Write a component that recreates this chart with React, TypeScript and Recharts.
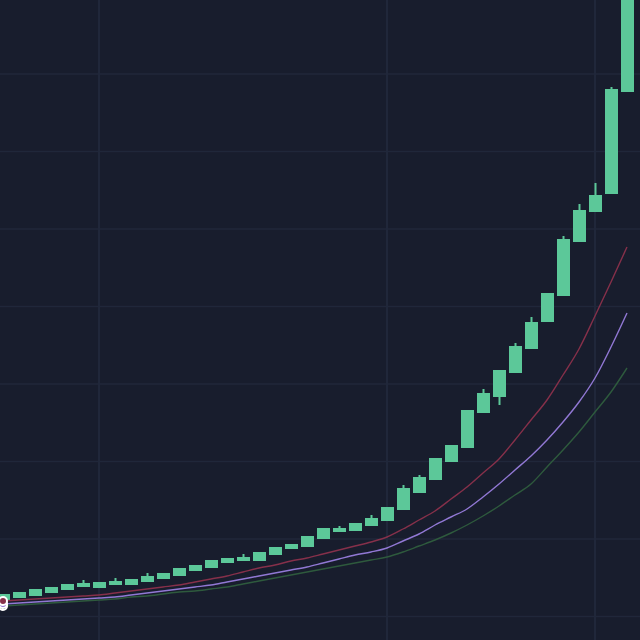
import React from "react";
import { ComposedChart, Bar, Line, XAxis, YAxis, ReferenceLine } from "recharts";

const BG = "#181d2d";
const GRID = "#20273a";
const UP = "#5cc899";

// one label per session
const days = [
  "1", "2", "3", "4", "5", "6", "7", "8", "9", "10",
  "11", "12", "13", "14", "15", "16", "17", "18", "19", "20",
  "21", "22", "23", "24", "25", "26", "27", "28", "29", "30",
  "31", "32", "33", "34", "35", "36", "37", "38", "39", "40",
];

const opens = [
  40, 42, 44, 47, 50, 53, 52, 55, 55, 58,
  61, 64, 69, 72, 77, 79, 79, 85, 91, 93,
  101, 108, 109, 114, 119, 130, 147, 160, 178, 192,
  227, 243, 267, 291, 318, 344, 398, 428, 446, 548,
];
const closes = [
  46, 48, 51, 53, 56, 57, 58, 59, 61, 64,
  67, 72, 75, 80, 82, 83, 88, 93, 96, 104,
  112, 112, 117, 122, 133, 152, 163, 182, 195, 230,
  247, 270, 294, 318, 347, 401, 430, 445, 551, 700,
];
const highs = [
  46, 48, 51, 53, 56, 60, 58, 62, 61, 67,
  67, 72, 75, 80, 82, 86, 88, 93, 96, 104,
  112, 114, 117, 125, 133, 155, 165, 182, 195, 230,
  251, 270, 297, 323, 347, 404, 436, 457, 553, 705,
];
const lows = [
  40, 42, 44, 47, 50, 53, 52, 55, 55, 58,
  61, 64, 69, 72, 77, 79, 79, 85, 91, 93,
  101, 108, 109, 114, 119, 130, 147, 160, 178, 192,
  227, 235, 267, 291, 318, 344, 398, 428, 446, 548,
];

// moving averages
const maFast = [
  39, 40, 41, 42, 43, 44, 45, 47, 49, 51,
  53, 55, 58, 61, 64, 68, 72, 75, 79, 82,
  86, 90, 94, 98, 103, 111, 120, 129, 141, 153,
  167, 181, 200, 220, 240, 265, 291, 324, 358, 393,
];
const maMid = [
  36, 37, 38, 39, 40, 41, 42, 43, 45, 47,
  49, 51, 53, 55, 58, 61, 64, 67, 70, 73,
  77, 81, 85, 88, 92, 99, 106, 115, 123, 131,
  143, 156, 170, 184, 200, 218, 238, 262, 293, 327,
];
const maSlow = [
  34, 35, 36, 37, 38, 39, 40, 41, 43, 44,
  46, 48, 49, 51, 53, 56, 59, 62, 65, 68,
  71, 74, 77, 80, 83, 88, 94, 100, 107, 115,
  124, 134, 145, 156, 173, 190, 208, 228, 248, 272,
];

const priceTicks = [23.5, 101, 178.5, 256, 333.5, 411, 488.5, 566];
const periodTicks = ["7", "25", "38"];

const data = days.map((day, i) => ({
  day,
  open: opens[i],
  close: closes[i],
  high: highs[i],
  low: lows[i],
  range: [lows[i], highs[i]],
  maFast: maFast[i],
  maMid: maMid[i],
  maSlow: maSlow[i],
}));

const Candle = (props: any) => {
  const { x, y, width, height, payload } = props;
  if (x == null || y == null) return null;
  const { open, close, high, low } = payload;
  const top = Math.min(y, y + height);
  const h = Math.abs(height);
  const py = (v: number) => top + ((high - v) / (high - low)) * h;
  const cx = x + width / 2;
  const bodyTop = py(Math.max(open, close));
  const bodyBottom = py(Math.min(open, close));
  return (
    <g>
      <line x1={cx} x2={cx} y1={py(high)} y2={py(low)} stroke={UP} strokeWidth={2} />
      <rect x={x} y={bodyTop} width={width} height={Math.max(1, bodyBottom - bodyTop)} fill={UP} />
    </g>
  );
};

const W = 650;
const H = 640;
const MARGIN = { top: 0, right: 0, bottom: 0, left: 0 };

// both layers share these axes so the grid sits under the candles
const axes = [
  <XAxis key="x" dataKey="day" scale="band" hide padding={{ left: 0, right: 10 }} />,
  <YAxis key="y" type="number" domain={[0, 640]} allowDataOverflow hide />,
];

export default function App() {
  return (
    <div
      style={{
        position: "absolute",
        left: 0,
        top: 0,
        width: 640,
        height: 640,
        background: BG,
        overflow: "hidden",
      }}
    >
      <div style={{ position: "absolute", left: -5, top: 0 }}>
        <ComposedChart width={W} height={H} data={data} margin={MARGIN}>
          {axes}
          {priceTicks.map((v) => (
            <ReferenceLine key={"h" + v} y={v} stroke={GRID} strokeWidth={1.5} />
          ))}
          {periodTicks.map((d) => (
            <ReferenceLine key={"v" + d} x={d} stroke={GRID} strokeWidth={2} />
          ))}
        </ComposedChart>
      </div>
      <div style={{ position: "absolute", left: -5, top: 0 }}>
        <ComposedChart width={W} height={H} data={data} margin={MARGIN}>
          {axes}
          <Line type="monotone" dataKey="maSlow" stroke="#2e5a3d" strokeWidth={1.4} dot={false} isAnimationActive={false} />
          <Line type="monotone" dataKey="maMid" stroke="#9178d4" strokeWidth={1.4} dot={false} isAnimationActive={false} />
          <Line type="monotone" dataKey="maFast" stroke="#86304a" strokeWidth={1.4} dot={false} isAnimationActive={false} />
          <Bar dataKey="range" barSize={13} shape={Candle} isAnimationActive={false} />
        </ComposedChart>
      </div>
    </div>
  );
}
